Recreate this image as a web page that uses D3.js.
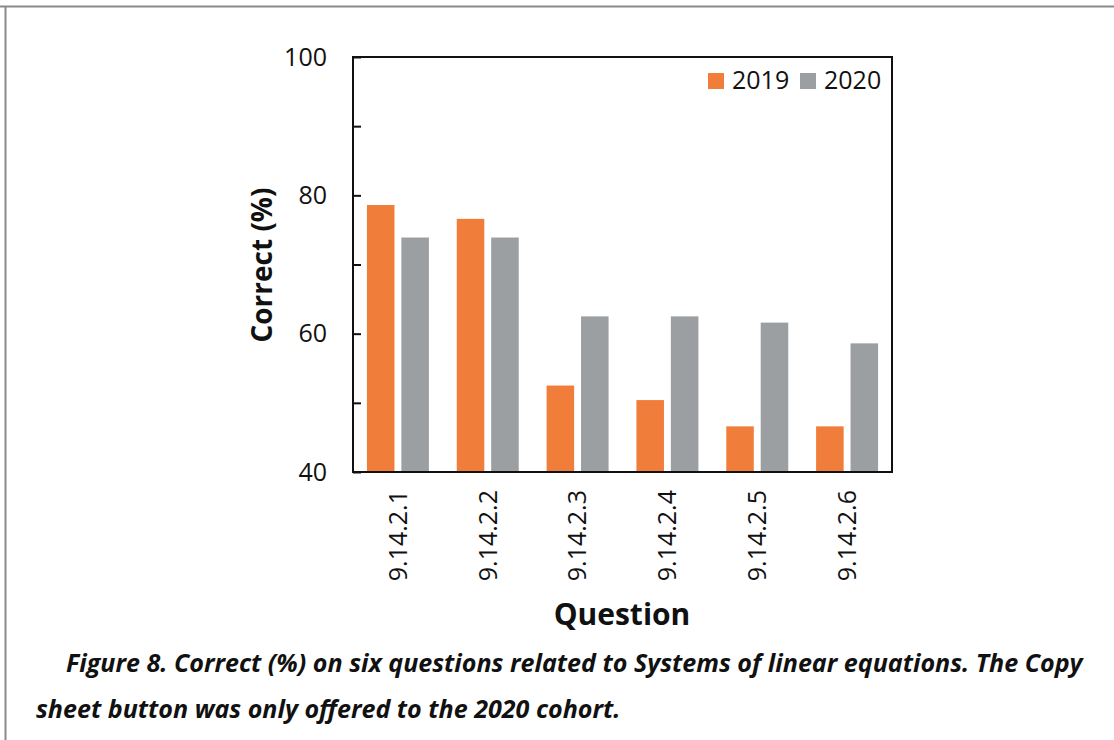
<!DOCTYPE html>
<html>
<head>
<meta charset="utf-8" />
<title>Figure 8</title>
<script src="https://cdn.jsdelivr.net/npm/d3@7"></script>
<style>
  body { margin: 0; background: #fff; }
  svg text { font-family: "Open Sans", "DejaVu Sans", sans-serif; fill: #111; }
</style>
</head>
<body>
<div id="chart"></div>
<script>
// chart values
var questions = ["9.14.2.1", "9.14.2.2", "9.14.2.3", "9.14.2.4", "9.14.2.5", "9.14.2.6"];
var series = ["2019", "2020"];
var values2019 = [78.6, 76.6, 52.5, 50.4, 46.6, 46.6];
var values2020 = [73.9, 73.9, 62.5, 62.5, 61.6, 58.6];
var yTicks = [40, 60, 80, 100];
var yMinorTicks = [50, 70, 90];
var captionLines = [
  "Figure 8. Correct (%) on six questions related to Systems of linear equations. The Copy",
  "sheet button was only offered to the 2020 cohort."
];

var colors = { "2019": "#f07e3a", "2020": "#9b9fa2" };
var seriesValues = { "2019": values2019, "2020": values2020 };

var W = 1114, H = 740;
var plot = { left: 353, top: 57, right: 892, bottom: 472 };

var svg = d3.select("#chart").append("svg")
    .attr("width", W)
    .attr("height", H);

// page border (top and left only, as in the scan)
svg.append("line").attr("x1", 0).attr("x2", W).attr("y1", 6.5).attr("y2", 6.5)
    .attr("stroke", "#8a8a8a").attr("stroke-width", 2);
svg.append("line").attr("x1", 5.5).attr("x2", 5.5).attr("y1", 6).attr("y2", H)
    .attr("stroke", "#8a8a8a").attr("stroke-width", 2);

var x0 = d3.scaleBand()
    .domain(questions)
    .range([plot.left, plot.right])
    .paddingInner(0.31)
    .paddingOuter(0.155);

var x1 = d3.scaleBand()
    .domain(series)
    .range([0, x0.bandwidth()])
    .paddingInner(0.2);

var y = d3.scaleLinear()
    .domain([40, 100])
    .range([plot.bottom, plot.top]);

// bars
var groups = svg.append("g").selectAll("g")
    .data(questions)
    .enter().append("g")
    .attr("transform", function (d) { return "translate(" + x0(d) + ",0)"; });

groups.selectAll("rect")
    .data(function (q, i) {
        return series.map(function (s) { return { s: s, v: seriesValues[s][i] }; });
    })
    .enter().append("rect")
    .attr("x", function (d) { return x1(d.s); })
    .attr("width", x1.bandwidth())
    .attr("y", function (d) { return y(d.v); })
    .attr("height", function (d) { return y(40) - y(d.v); })
    .style("fill", function (d) { return colors[d.s]; });

// frame
svg.append("rect")
    .attr("x", plot.left).attr("y", plot.top)
    .attr("width", plot.right - plot.left)
    .attr("height", plot.bottom - plot.top)
    .attr("fill", "none")
    .attr("stroke", "#111")
    .attr("stroke-width", 2);

// y axis, ticks pointing inwards
var yAxis = svg.append("g")
    .attr("transform", "translate(" + plot.left + ",0)")
    .call(d3.axisLeft(y).tickValues(yTicks.concat(yMinorTicks)).tickSize(-8).tickPadding(26)
        .tickFormat(function (d) { return yTicks.indexOf(d) >= 0 ? d : ""; }));
yAxis.select(".domain").remove();
yAxis.selectAll(".tick line").attr("stroke", "#111").attr("stroke-width", 2);
yAxis.selectAll(".tick text")
    .style("font-size", "25px")
    .attr("fill", "#111");

// x axis labels, rotated
var xAxis = svg.append("g")
    .attr("transform", "translate(0," + plot.bottom + ")")
    .call(d3.axisBottom(x0).tickSize(0));
xAxis.select(".domain").remove();
xAxis.selectAll(".tick text")
    .style("font-size", "25px")
    .attr("fill", "#111")
    .attr("text-anchor", "end")
    .attr("transform", "translate(0,18) rotate(-90)")
    .attr("x", 0)
    .attr("y", 0)
    .attr("dy", "0.35em");

// axis titles
svg.append("text")
    .attr("transform", "translate(272,265) rotate(-90)")
    .attr("text-anchor", "middle")
    .style("font-size", "28px")
    .style("font-weight", "700")
    .text("Correct (%)");

svg.append("text")
    .attr("x", 622)
    .attr("y", 625)
    .attr("text-anchor", "middle")
    .style("font-size", "30px")
    .style("font-weight", "700")
    .text("Question");

// legend
var legendX = [708, 800];
series.forEach(function (s, i) {
    svg.append("rect")
        .attr("x", legendX[i]).attr("y", 73)
        .attr("width", 16).attr("height", 16)
        .style("fill", colors[s]);
    svg.append("text")
        .attr("x", legendX[i] + 24)
        .attr("y", 89)
        .style("font-size", "25px")
        .text(s);
});

// caption
var caption = svg.append("g");
var line1 = caption.append("text")
    .attr("x", 66).attr("y", 672)
    .style("font-size", "22px")
    .style("font-weight", "700")
    .style("font-style", "italic")
    .attr("fill", "#231f20")
    .text(captionLines[0]);
var fit = 22 * 1017 / line1.node().getComputedTextLength();
line1.style("font-size", fit + "px");
caption.append("text")
    .attr("x", 36).attr("y", 718)
    .style("font-size", fit + "px")
    .style("font-weight", "700")
    .style("font-style", "italic")
    .attr("fill", "#231f20")
    .text(captionLines[1]);
</script>
</body>
</html>
